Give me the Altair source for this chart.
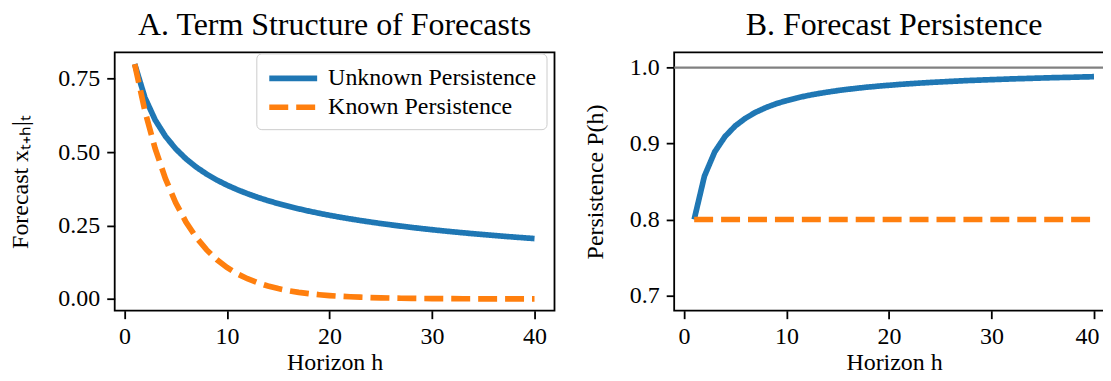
import altair as alt
import pandas as pd

# ---------------- data ----------------
horizon = list(range(1, 41))

unknown_forecast = [0.8000, 0.6857, 0.6095, 0.5541, 0.5115, 0.4774, 0.4493, 0.4257, 0.4054, 0.3878,
                    0.3723, 0.3585, 0.3461, 0.3349, 0.3248, 0.3155, 0.3070, 0.2991, 0.2918, 0.2850,
                    0.2787, 0.2728, 0.2672, 0.2620, 0.2570, 0.2523, 0.2479, 0.2437, 0.2397, 0.2359,
                    0.2323, 0.2288, 0.2255, 0.2223, 0.2193, 0.2164, 0.2135, 0.2108, 0.2082, 0.2057]

known_forecast = [0.8000, 0.6400, 0.5120, 0.4096, 0.3277, 0.2621, 0.2097, 0.1678, 0.1342, 0.1074,
                  0.0859, 0.0687, 0.0550, 0.0440, 0.0352, 0.0281, 0.0225, 0.0180, 0.0144, 0.0115,
                  0.0092, 0.0074, 0.0059, 0.0047, 0.0038, 0.0030, 0.0024, 0.0019, 0.0015, 0.0012,
                  0.0010, 0.0008, 0.0006, 0.0005, 0.0004, 0.0003, 0.0003, 0.0002, 0.0002, 0.0001]

unknown_persistence = [0.8000, 0.8571, 0.8889, 0.9091, 0.9231, 0.9333, 0.9412, 0.9474, 0.9524, 0.9565,
                       0.9600, 0.9630, 0.9655, 0.9677, 0.9697, 0.9714, 0.9730, 0.9744, 0.9756, 0.9767,
                       0.9778, 0.9787, 0.9796, 0.9804, 0.9811, 0.9818, 0.9825, 0.9831, 0.9836, 0.9841,
                       0.9846, 0.9851, 0.9855, 0.9859, 0.9863, 0.9867, 0.9870, 0.9873, 0.9877, 0.9880]

known_persistence = [0.8, 0.8, 0.8, 0.8, 0.8, 0.8, 0.8, 0.8, 0.8, 0.8,
                     0.8, 0.8, 0.8, 0.8, 0.8, 0.8, 0.8, 0.8, 0.8, 0.8,
                     0.8, 0.8, 0.8, 0.8, 0.8, 0.8, 0.8, 0.8, 0.8, 0.8,
                     0.8, 0.8, 0.8, 0.8, 0.8, 0.8, 0.8, 0.8, 0.8, 0.8]

reference_level = [1.0]

series_names = ["Unknown Persistence", "Known Persistence"]
series_colors = ["#1f77b4", "#ff7f0e"]
x_ticks = [0, 10, 20, 30, 40]
left_y_ticks = [0.0, 0.25, 0.5, 0.75]
right_y_ticks = [0.7, 0.8, 0.9, 1.0]

# ---------------- tables ----------------
df_forecast = pd.DataFrame({
    "h": horizon + horizon,
    "value": unknown_forecast + known_forecast,
    "series": [series_names[0]] * len(horizon) + [series_names[1]] * len(horizon),
})
df_persist = pd.DataFrame({
    "h": horizon + horizon,
    "value": unknown_persistence + known_persistence,
    "series": [series_names[0]] * len(horizon) + [series_names[1]] * len(horizon),
})
df_ref = pd.DataFrame({"level": reference_level})

FONT = "Liberation Serif"
LW = 5.7
X_DOMAIN = [-0.95, 41.95]
W, H = 441, 259

x_left = alt.X("h:Q", scale=alt.Scale(domain=X_DOMAIN, nice=False, zero=False),
               axis=alt.Axis(values=x_ticks, format="d", title="Horizon h",
                             labelFont=FONT, titleFont=FONT))
# the last label of the right panel sits at the page edge: nudge it inward so it stays whole
x_right = alt.X("h:Q", scale=alt.Scale(domain=X_DOMAIN, nice=False, zero=False),
                axis=alt.Axis(values=x_ticks, format="d", title="Horizon h",
                              labelFont=FONT, titleFont=FONT,
                              labelOffset={"condition": {"test": "datum.value == 40", "value": -7},
                                           "value": 0}))

legend_left = alt.Legend(
    title=None, orient="none", legendX=142, legendY=1,
    symbolType="M-2,0H2", symbolSize=576, symbolStrokeWidth=LW,
    labelFont=FONT, labelFontSize=24, labelColor="black", labelOffset=20,
    labelLimit=400, padding=10, rowPadding=2, symbolOffset=12,
    strokeColor="#cccccc", fillColor="rgba(255,255,255,0.8)", cornerRadius=5,
)

color_scale = alt.Scale(domain=series_names, range=series_colors)
dash_scale = alt.Scale(domain=series_names, range=[[1, 0], [19, 8]])


def lines(df, x_enc, y_enc, legend):
    base = alt.Chart(df).mark_line(strokeWidth=LW, strokeCap="butt", clip=True).encode(
        x=x_enc,
        y=y_enc,
        color=alt.Color("series:N", scale=color_scale, legend=legend),
        strokeDash=alt.StrokeDash("series:N", scale=dash_scale, legend=legend),
    )
    first = base.transform_filter(alt.datum.series == series_names[0])
    second = base.transform_filter(alt.datum.series == series_names[1])
    return first, second


left_y = alt.Y("value:Q", scale=alt.Scale(domain=[-0.04, 0.84], nice=False, zero=False),
               axis=alt.Axis(values=left_y_ticks, format=".2f", title="Forecast xₜ₊ₕ|ₜ",
                             labelFont=FONT, titleFont=FONT,
                             minExtent=55, maxExtent=55, titlePadding=27))
l1, l2 = lines(df_forecast, x_left, left_y, legend_left)
left = alt.layer(l1, l2).properties(
    width=W, height=H,
    title=alt.TitleParams("A. Term Structure of Forecasts"),
)

right_y = alt.Y("value:Q", scale=alt.Scale(domain=[0.68, 1.02], nice=False, zero=False),
                axis=alt.Axis(values=right_y_ticks, format=".1f", title="Persistence P(h)",
                              labelFont=FONT, titleFont=FONT,
                              minExtent=50, maxExtent=50, titlePadding=17))
ref_rule = alt.Chart(df_ref).mark_rule(color="#808080", strokeWidth=2.3).encode(
    y=alt.Y("level:Q", scale=alt.Scale(domain=[0.68, 1.02], nice=False, zero=False))
)
r1, r2 = lines(df_persist, x_right, right_y, None)
right = alt.layer(ref_rule, r1, r2).properties(
    width=W, height=H,
    title=alt.TitleParams("B. Forecast Persistence"),
)

chart = alt.hconcat(left, right, spacing=120, bounds="flush").resolve_legend(
    color="independent", strokeDash="independent"
).resolve_scale(color="independent", strokeDash="independent").properties(
    padding={"left": 0, "top": 0, "right": -14, "bottom": 0},
    background="white",
).configure(
    font=FONT,
).configure_view(
    stroke="black", strokeWidth=1.8
).configure_axis(
    labelFont=FONT, labelFontSize=24, labelColor="black",
    titleFont=FONT, titleFontSize=24, titleFontWeight="normal", titleColor="black",
    tickColor="black", tickSize=8, tickWidth=1.8, domain=False, grid=False,
    labelPadding=7,
).configure_axisX(
    labelPadding=6, titlePadding=2,
).configure_legend(
    labelFont=FONT,
).configure_title(
    font=FONT, fontSize=32, fontWeight="normal", color="black", offset=10, anchor="middle",
)

chart.save("out.html", embed_options={"renderer": "svg", "actions": False})
